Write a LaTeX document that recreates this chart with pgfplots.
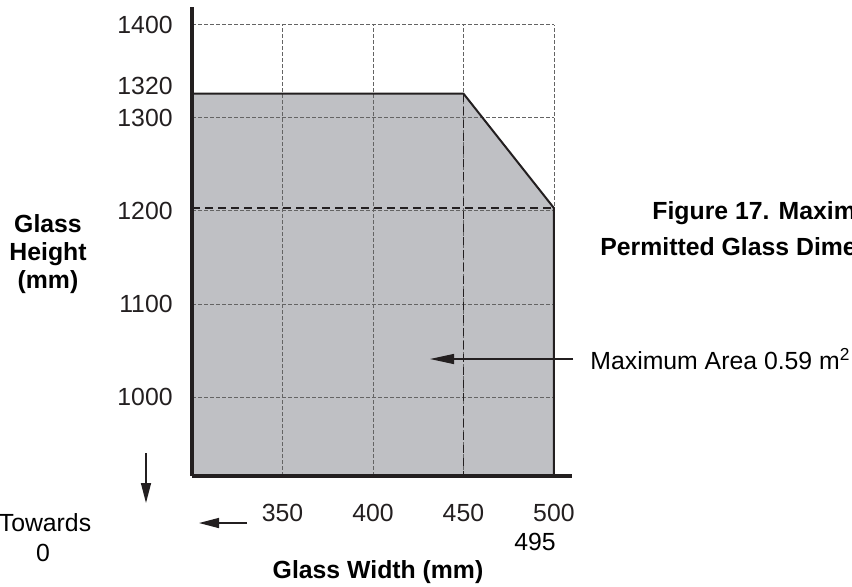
\documentclass[border=0pt]{standalone}
\usepackage{pgfplots}
\pgfplotsset{compat=1.18}
\usepackage{fontspec}
\setmainfont{Liberation Sans}
\usetikzlibrary{arrows.meta}
\definecolor{ink}{RGB}{35,31,32}
\definecolor{area}{RGB}{191,192,196}
\definecolor{gridc}{RGB}{100,100,100}
\newcommand\fs{\fontsize{12.4pt}{14pt}\selectfont}
\begin{document}
\begin{tikzpicture}[font=\fs]
\path[use as bounding box] (0,0) rectangle (426pt,-293pt);
\begin{axis}[at={(96pt,-238pt)}, anchor=south west, scale only axis,
  width=190pt, height=234.5pt,
  xmin=300, xmax=510, ymin=915, ymax=1419,
  axis lines=left, axis line style={-, line width=2pt, ink},
  axis on top, clip=false,
  xtick={350,400,450,500}, xticklabels={350,400,450,500},
  ytick={1000,1100,1200,1300,1334,1400},
  yticklabels={1000,1100,1200,1300,1320,1400},
  major tick length=0pt,
  /pgf/number format/assume math mode=true,
  xticklabel style={inner sep=0pt, anchor=north, yshift=-14pt, text=ink},
  yticklabel style={inner sep=0pt, anchor=east, xshift=-9.5pt, text=ink},
]
% shaded permitted region
\addplot[fill=area, draw=none] coordinates {(300,915) (300,1326) (450,1326) (500,1203) (500,915)} -- cycle;
% grid
\foreach \gx in {350,400,450,500} {
  \edef\tmp{\noexpand\draw[gridc, line width=0.35pt, dash pattern=on 2pt off 1pt] (axis cs:\gx,915) -- (axis cs:\gx,1400);}\tmp
}
\foreach \gy in {1000,1100,1200,1300,1400} {
  \edef\tmp{\noexpand\draw[gridc, line width=0.35pt, dash pattern=on 2pt off 1pt] (axis cs:300,\gy) -- (axis cs:500,\gy);}\tmp
}
% outline of region
\addplot[ink, line width=1pt] coordinates {(300,1326) (450,1326) (500,1203) (500,915)};
% dashed reference lines
\addplot[ink, line width=0.9pt, dash pattern=on 4pt off 2.5pt] coordinates {(300,1203) (500,1203)};
\addplot[ink, line width=0.9pt, dash pattern=on 4pt off 2.5pt] coordinates {(450,1326) (450,915)};
\end{axis}
% annotations
\node[inner sep=0pt] at (267.5pt,-271pt) {495};
\node[inner sep=0pt, font=\fs\bfseries] at (189pt,-286pt) {Glass Width (mm)};
\node[inner sep=0pt, align=center, font=\fs\bfseries] at (24pt,-127pt) {Glass\\Height\\(mm)};
\draw[ink, line width=0.75pt, -{Triangle[length=10pt,width=5pt]}] (73pt,-226.5pt) -- (73pt,-251.5pt);
\draw[ink, line width=0.75pt, -{Triangle[length=10pt,width=5pt]}] (123.5pt,-261.5pt) -- (99.5pt,-261.5pt);
\node[inner sep=0pt] at (22.5pt,-261.5pt) {Towards};
\node[inner sep=0pt] at (21.5pt,-276.5pt) {0};
\draw[ink, line width=0.6pt, -{Triangle[length=12pt,width=5pt]}] (286.5pt,-179.5pt) -- (215pt,-179.5pt);
\node[inner sep=0pt, anchor=west] at (295pt,-179.5pt) {Maximum Area 0.59 m\textsuperscript{2}};
\node[inner sep=0pt, anchor=west, font=\fs\bfseries] at (326pt,-106.5pt) {Figure 17. Maximum};
\node[inner sep=0pt, anchor=west, font=\fs\bfseries] at (300pt,-123.5pt) {Permitted Glass Dimensions};
\end{tikzpicture}
\end{document}
